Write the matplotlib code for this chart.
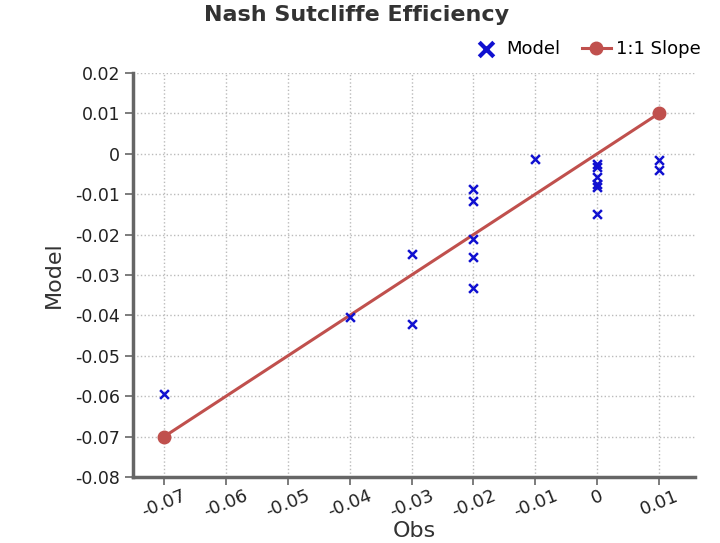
import matplotlib.pyplot as plt
import numpy as np

# observed vs modelled values
obs = [-0.07, -0.04, -0.03, -0.03,
       -0.02, -0.02, -0.02, -0.02, -0.02,
       -0.01,
       0.0, 0.0, 0.0, 0.0, 0.0, 0.0,
       0.01, 0.01]
model = [-0.0595, -0.0405, -0.0248, -0.042,
         -0.0087, -0.0117, -0.0212, -0.0256, -0.0331,
         -0.0014,
         -0.0026, -0.0032, -0.0058, -0.0075, -0.0082, -0.0148,
         -0.0015, -0.0041]

# 1:1 reference line end points
slope_x = [-0.07, 0.01]
slope_y = [-0.07, 0.01]

x_ticks = [-0.07, -0.06, -0.05, -0.04, -0.03, -0.02, -0.01, 0.0, 0.01]
x_labels = ["-0.07", "-0.06", "-0.05", "-0.04", "-0.03", "-0.02", "-0.01", "0", "0.01"]
y_ticks = [0.02, 0.01, 0.0, -0.01, -0.02, -0.03, -0.04, -0.05, -0.06, -0.07, -0.08]
y_labels = ["0.02", "0.01", "0", "-0.01", "-0.02", "-0.03", "-0.04", "-0.05", "-0.06", "-0.07", "-0.08"]

fig = plt.figure(figsize=(7.2, 5.43), dpi=100)
ax = fig.add_axes([0.185, 0.1215, 0.78, 0.744])

ax.scatter(obs, model, marker='x', color='#1010d0', s=40, linewidths=1.8, zorder=3, label='Model')
ax.plot(slope_x, slope_y, color='#c0504d', linewidth=2.2, marker='o', markersize=9, zorder=2, label='1:1 Slope')

ax.set_xlim(-0.075, 0.0158)
ax.set_ylim(-0.08, 0.02)
ax.set_xticks(x_ticks)
ax.set_xticklabels(x_labels, rotation=22, fontsize=13, color='#222222')
ax.set_yticks(y_ticks)
ax.set_yticklabels(y_labels, fontsize=12.5, color='#222222')

ax.grid(True, ls=':', color='#bbbbbb', linewidth=1)
ax.set_axisbelow(True)
for side in ['top', 'right']:
    ax.spines[side].set_visible(False)
for side in ['left', 'bottom']:
    ax.spines[side].set_color('#666666')
    ax.spines[side].set_linewidth(2.5)
ax.tick_params(axis='both', colors='#666666', length=6, width=1.2, labelcolor='#222222')
ax.tick_params(axis='x', pad=1)

ax.set_xlabel('Obs', fontsize=16, color='#333333', labelpad=0)
ax.set_ylabel('Model', fontsize=16, color='#333333', labelpad=8)

fig.text(0.495, 0.972, 'Nash Sutcliffe Efficiency', ha='center', va='center',
         fontsize=16, fontweight='heavy', color='#333333', family='DejaVu Sans Condensed')
leg = ax.legend(loc='lower right', bbox_to_anchor=(1.03, 1.01), ncol=2, frameon=False,
                fontsize=13, handlelength=1.6, columnspacing=1.2, handletextpad=0.3,
                borderaxespad=0.2)
leg.legend_handles[0].set_sizes([110])
leg.legend_handles[0].set_linewidths(3)

plt.savefig("out.png", dpi=100)
